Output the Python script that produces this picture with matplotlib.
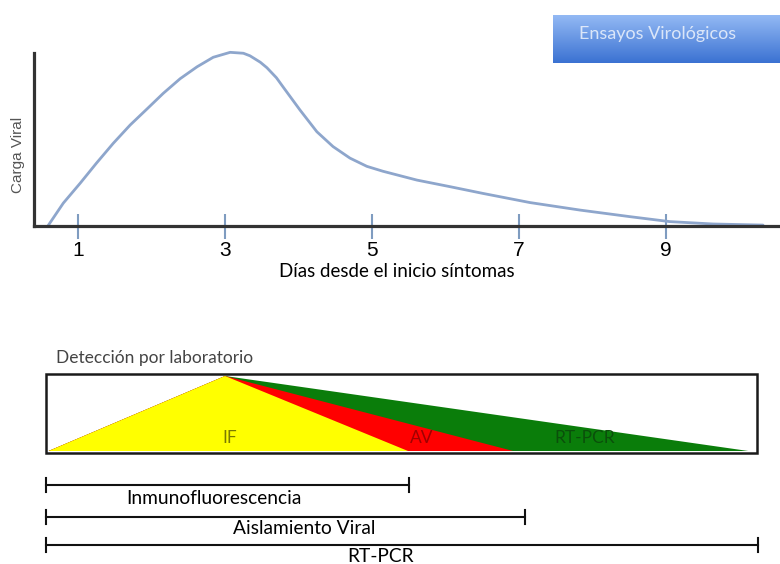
import matplotlib.pyplot as plt
import numpy as np
from matplotlib.patches import Rectangle, Polygon
from matplotlib.colors import LinearSegmentedColormap

plt.rcParams['font.family'] = ['Liberation Sans', 'DejaVu Sans']
calibri = ['Lato', 'DejaVu Sans']

# curva de carga viral (dias, carga relativa)
dias = [0.59, 0.80, 1.03, 1.25, 1.48, 1.71, 1.94, 2.16, 2.39, 2.62, 2.84, 3.07, 3.25,
        3.34, 3.48, 3.57, 3.70, 3.79, 4.02, 4.25, 4.47, 4.70, 4.93, 5.15, 5.61, 6.06,
        6.51, 7.15, 7.83, 8.51, 9.05, 9.64, 10.32]
carga = [0.0, 0.125, 0.234, 0.343, 0.452, 0.552, 0.640, 0.725, 0.805, 0.870, 0.922, 0.949, 0.944,
         0.930, 0.895, 0.865, 0.810, 0.760, 0.634, 0.515, 0.434, 0.371, 0.326, 0.299, 0.251, 0.215,
         0.178, 0.128, 0.087, 0.051, 0.024, 0.011, 0.005]
ticks = [1, 3, 5, 7, 9]

# deteccion por laboratorio (dias)
inicio = 0.6
pico = 3.0
fin_if = 5.49
fin_av = 6.92
fin_pcr = 10.12
caja = (0.57, 10.24)
rangos = [('Inmunofluorescencia', 0.57, 5.51),
          ('Aislamiento Viral', 0.57, 7.08),
          ('RT-PCR', 0.57, 10.25)]

W, H = 780, 564
fig = plt.figure(figsize=(7.8, 5.64), dpi=100)
xlim = ((34 - 4.5) / 73.5, (780 - 4.5) / 73.5)

ax = fig.add_axes([34 / W, (H - 226) / H, (W - 34) / W, 183 / H])
ax.plot(dias, carga, color='#8ea6cc', lw=2, solid_capstyle='round', solid_joinstyle='round')
ax.set_xlim(*xlim)
ax.set_ylim(0, 1)
for s in ['top', 'right']:
    ax.spines[s].set_visible(False)
for s in ['left', 'bottom']:
    ax.spines[s].set_linewidth(2.3)
    ax.spines[s].set_color('#333333')
ax.spines['left'].set_bounds(0, 0.944)
ax.set_yticks([])
ax.set_xticks(ticks)
ax.tick_params(axis='x', direction='inout', length=18, width=1.5, color='#7f9cc0',
               labelsize=15, pad=2)
ax.patch.set_alpha(0)

fig.text(397 / W, 1 - 271 / H, 'Días desde el inicio síntomas', ha='center', va='center',
         fontsize=13.5, family=calibri)
fig.text(18 / W, 1 - 155 / H, 'Carga Viral', rotation=90, ha='center', va='center',
         fontsize=11, color='#555555')

# caja "Ensayos Virológicos"
bx = fig.add_axes([553 / W, (H - 63) / H, 227 / W, 48 / H])
grad = np.linspace(0, 1, 100).reshape(-1, 1)
cm = LinearSegmentedColormap.from_list('azul', ['#93b9f4', '#3b72d2'])
bx.imshow(grad, aspect='auto', cmap=cm, extent=[0, 1, 0, 1], origin='upper')
bx.axis('off')
bx.text(0.46, 0.6, 'Ensayos Virológicos', ha='center', va='center', fontsize=13,
        color='white', alpha=0.75, family=calibri)

# panel inferior
ax2 = fig.add_axes([34 / W, 0, (W - 34) / W, 224 / H])
ax2.set_xlim(*xlim)
ax2.set_ylim(564, 340)
ax2.axis('off')

ax2.text(inicio + 0.1, 358, 'Detección por laboratorio', fontsize=12.5, color='#444444',
         va='center', family=calibri)
ax2.add_patch(Polygon([[pico, 376], [fin_pcr, 451], [inicio, 451]], closed=True,
                      facecolor='#0a7d0a', edgecolor='none'))
ax2.add_patch(Polygon([[pico, 376], [fin_av, 451], [inicio, 451]], closed=True,
                      facecolor='#ff0000', edgecolor='none'))
ax2.add_patch(Polygon([[pico, 376], [fin_if, 451], [inicio, 451]], closed=True,
                      facecolor='#ffff00', edgecolor='none'))
ax2.add_patch(Rectangle((caja[0], 374), caja[1] - caja[0], 79, fill=False,
                        edgecolor='#1a1a1a', lw=1.8))
ax2.text(3.07, 438, 'IF', ha='center', va='center', fontsize=12.5, color='#7a7a00',
         family=calibri)
ax2.text(5.68, 438, 'AV', ha='center', va='center', fontsize=12.5, color='#a00000',
         family=calibri)
ax2.text(7.9, 438, 'RT-PCR', ha='center', va='center', fontsize=12.5, color='#0b4f0b',
         family=calibri)

ys = [485, 517, 545]
for (nombre, a, b), y in zip(rangos, ys):
    ax2.plot([a, b], [y, y], color='#111111', lw=1.5)
    ax2.plot([a, a], [y - 7, y + 7], color='#111111', lw=1.5)
    ax2.plot([b, b], [y - 7, y + 7], color='#111111', lw=1.5)
lab_x = [(214 - 4.5) / 73.5, (304 - 4.5) / 73.5, (381 - 4.5) / 73.5]
lab_y = [499, 528, 557]
for (nombre, a, b), x, y in zip(rangos, lab_x, lab_y):
    ax2.text(x, y, nombre, ha='center', va='center', fontsize=13.8, family=calibri)

fig.savefig('out.png', dpi=100)
